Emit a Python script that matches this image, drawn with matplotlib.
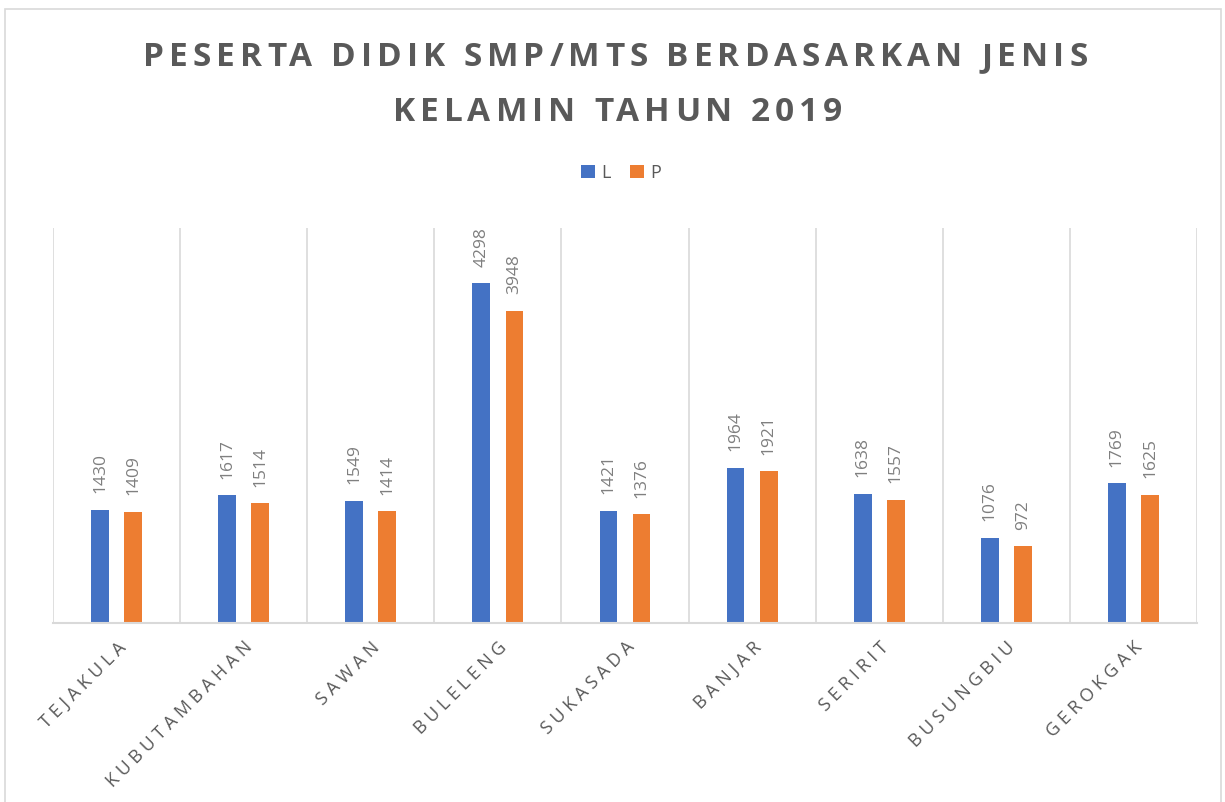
import matplotlib
matplotlib.use("Agg")
import matplotlib.pyplot as plt
from matplotlib.patches import Rectangle
from matplotlib.font_manager import FontProperties
import numpy as np

categories = ["TEJAKULA", "KUBUTAMBAHAN", "SAWAN", "BULELENG", "SUKASADA",
              "BANJAR", "SERIRIT", "BUSUNGBIU", "GEROKGAK"]
laki = [1430, 1617, 1549, 4298, 1421, 1964, 1638, 1076, 1769]
perempuan = [1409, 1514, 1414, 3948, 1376, 1921, 1557, 972, 1625]
series_names = ["L", "P"]
title_lines = ["PESERTA DIDIK SMP/MTS BERDASARKAN JENIS", "KELAMIN TAHUN 2019"]

BLUE = "#4472C4"
ORANGE = "#ED7D31"
TEXT = "#595959"
GRID = "#D9D9D9"

plt.rcParams["font.family"] = ["Open Sans", "DejaVu Sans"]

W, H = 1225, 802
fig = plt.figure(figsize=(W / 100, H / 100), dpi=100)
fig.patches.append(Rectangle((0.004, -0.01), 0.993, 0.999, transform=fig.transFigure,
                             fill=False, edgecolor="#D9D9D9", linewidth=1.2))

ax = fig.add_axes([53 / W, 1 - 623 / H, (1197 - 53) / W, (623 - 228) / H])
x = np.arange(len(categories))
w = 0.14
off = 0.13
b1 = ax.bar(x - off, laki, w, color=BLUE, label=series_names[0])
b2 = ax.bar(x + off, perempuan, w, color=ORANGE, label=series_names[1])

for bars, vals in ((b1, laki), (b2, perempuan)):
    for rect, v in zip(bars, vals):
        ax.annotate(str(v), (rect.get_x() + rect.get_width() / 2, v),
                    xytext=(0, 12), textcoords="offset points",
                    rotation=90, ha="center", va="bottom",
                    fontsize=12.5, color="#7F7F7F")

ax.set_xlim(-0.5, len(categories) - 0.5)
ax.set_ylim(0, 5000)
ax.set_yticks([])
for b in np.arange(-0.5, len(categories), 1.0):
    ax.axvline(b, color=GRID, linewidth=1.2, zorder=0)
for s in ["top", "right", "left"]:
    ax.spines[s].set_visible(False)
ax.spines["bottom"].set_color(GRID)
ax.spines["bottom"].set_linewidth(1.5)

ax.set_xticks(x)
ax.set_xticklabels([" ".join(c) for c in categories], rotation=45, ha="right",
                   rotation_mode="anchor", fontsize=13, color=TEXT)
ax.tick_params(axis="x", length=0, pad=11)

# Title with wide letter tracking, laid out glyph by glyph
title_font = FontProperties(family="Open Sans", weight="bold", size=24)
renderer = fig.canvas.get_renderer()


def text_width(s):
    return renderer.get_text_width_height_descent(s, title_font, ismath=False)[0]


def draw_tracked(line, center_px, baseline_px, track):
    total = text_width(line) + track * (len(line) - 1)
    x0 = center_px - total / 2
    for i, ch in enumerate(line):
        if ch == " ":
            continue
        left = text_width(line[:i + 1]) - text_width(ch)
        fig.text((x0 + left + track * i) / W, 1 - baseline_px / H, ch,
                 ha="left", va="baseline", fontproperties=title_font, color=TEXT)


track = (945 - text_width(title_lines[0])) / (len(title_lines[0]) - 1)
draw_tracked(title_lines[0], 615.5, 66, track)
draw_tracked(title_lines[1], 617.5, 121, track)

leg = fig.legend(handles=[b1, b2], labels=series_names, loc="center",
                 bbox_to_anchor=(0.507, 1 - 173 / H), ncol=2, frameon=False,
                 fontsize=13, handlelength=0.75, handleheight=0.75,
                 handletextpad=0.35, columnspacing=1.1)
for t in leg.get_texts():
    t.set_color(TEXT)

fig.savefig("out.png", dpi=100)
